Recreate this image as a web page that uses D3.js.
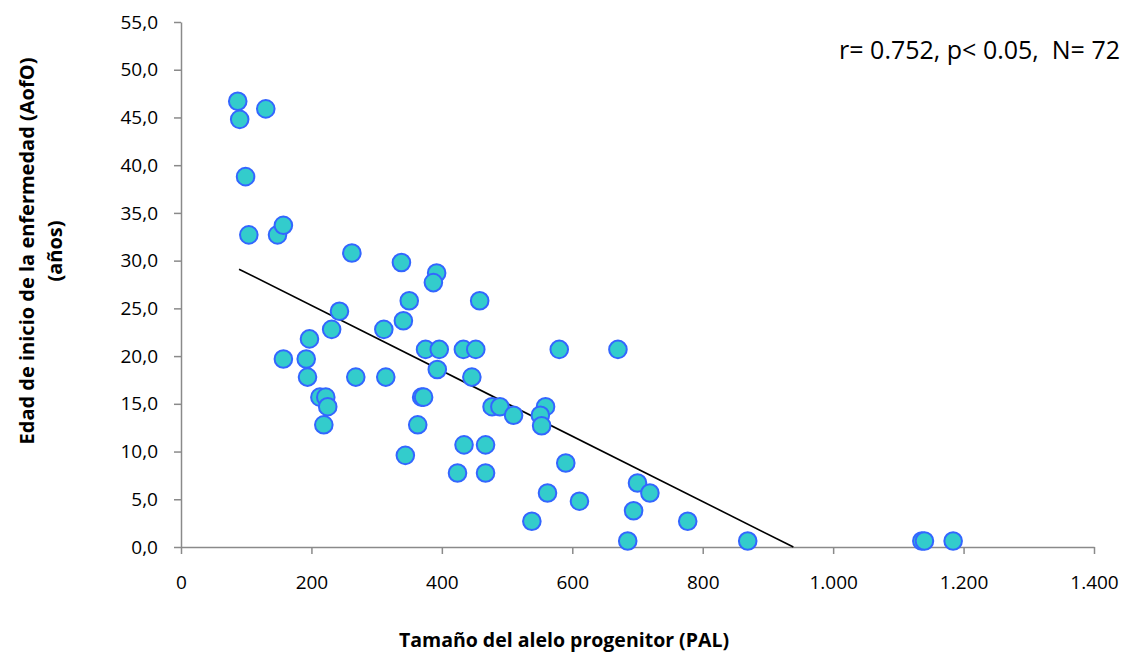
<!DOCTYPE html>
<html>
<head>
<meta charset="utf-8">
<script src="https://cdn.jsdelivr.net/npm/d3@7"></script>
<style>
  body { margin: 0; background: #fff; }
  svg { display: block; font-family: "Open Sans", sans-serif; }
  .axis path, .axis line { stroke: #8a8a8a; stroke-width: 1.5; }
  .axis text { fill: #000; font-size: 19px; font-family: "Open Sans", sans-serif; }
</style>
</head>
<body>
<svg id="chart" width="1127" height="670"></svg>
<script>
// Data
const palValues = [
  87, 90, 130, 99, 104, 148, 157, 262, 338, 392,
  387, 350, 458, 243, 231, 311, 341, 197, 375, 396,
  433, 452, 580, 670, 157, 192, 393, 194, 268, 314,
  446, 213, 222, 369, 372, 225, 477, 489, 559, 510,
  551, 219, 363, 553, 434, 467, 344, 590, 424, 467,
  700, 562, 719, 611, 694, 538, 777, 685, 869, 1136,
  1140, 1184
];
const aofoValues = [
  46.7, 44.8, 45.9, 38.8, 32.7, 32.7, 33.7, 30.8, 29.8, 28.7,
  27.7, 25.8, 25.8, 24.7, 22.8, 22.8, 23.7, 21.8, 20.7, 20.7,
  20.7, 20.7, 20.7, 20.7, 19.7, 19.7, 18.6, 17.8, 17.8, 17.8,
  17.8, 15.7, 15.7, 15.7, 15.7, 14.7, 14.7, 14.7, 14.7, 13.8,
  13.8, 12.8, 12.8, 12.7, 10.7, 10.7, 9.6, 8.8, 7.75, 7.75,
  6.7, 5.66, 5.66, 4.8, 3.8, 2.7, 2.7, 0.63, 0.63, 0.63,
  0.63, 0.63
];
const trendX = [89, 939];
const trendY = [29.1, 0];
const xTicks = [0, 200, 400, 600, 800, 1000, 1200, 1400];
const yTicks = [0, 5, 10, 15, 20, 25, 30, 35, 40, 45, 50, 55];
const statsLabel = "r= 0.752, p< 0.05,  N= 72";

const points = palValues.map((v, i) => ({ x: v, y: aofoValues[i] }));

// Layout
const PLOT = { left: 181, right: 1094, top: 22, bottom: 547 };

const svg = d3.select("#chart");

const xScale = d3.scaleLinear().domain([0, 1400]).range([PLOT.left, PLOT.right]);
const yScale = d3.scaleLinear().domain([0, 55]).range([PLOT.bottom, PLOT.top]);

const fmtX = (v) => d3.format(",")(v).replace(/,/g, ".");
const fmtY = (v) => v.toFixed(1).replace(".", ",");

// Axes
svg.append("g")
  .attr("class", "axis")
  .attr("transform", `translate(0,${PLOT.bottom})`)
  .call(d3.axisBottom(xScale).tickValues(xTicks).tickFormat(fmtX).tickSize(7).tickSizeOuter(0).tickPadding(22));

svg.append("g")
  .attr("class", "axis")
  .attr("transform", `translate(${PLOT.left},0)`)
  .call(d3.axisLeft(yScale).tickValues(yTicks).tickFormat(fmtY).tickSize(7).tickSizeOuter(0).tickPadding(16));

// Trend line
svg.append("line")
  .attr("x1", xScale(trendX[0]))
  .attr("y1", yScale(trendY[0]))
  .attr("x2", xScale(trendX[1]))
  .attr("y2", yScale(trendY[1]))
  .attr("stroke", "#000")
  .attr("stroke-width", 1.6);

// Points
svg.append("g")
  .selectAll("circle")
  .data(points)
  .join("circle")
  .attr("cx", (d) => xScale(d.x))
  .attr("cy", (d) => yScale(d.y))
  .attr("r", 8.8)
  .attr("fill", "#33CCCC")
  .attr("stroke", "#3366FF")
  .attr("stroke-width", 2);

// Stats annotation
svg.append("text")
  .attr("x", 1120)
  .attr("y", 59)
  .attr("text-anchor", "end")
  .attr("font-size", 25)
  .style("white-space", "pre")
  .text(statsLabel);

// Axis titles
svg.append("text")
  .attr("x", 564)
  .attr("y", 647)
  .attr("text-anchor", "middle")
  .attr("font-size", 19.5)
  .attr("font-weight", "bold")
  .text("Tamaño del alelo progenitor (PAL)");

const yTitle = svg.append("text")
  .attr("transform", "translate(0,251) rotate(-90)")
  .attr("text-anchor", "middle")
  .attr("font-size", 20)
  .attr("font-weight", "bold");
yTitle.append("tspan").attr("x", 0).attr("y", 34).text("Edad de inicio de la enfermedad (AofO)");
yTitle.append("tspan").attr("x", 0).attr("y", 62).text("(años)");
</script>
</body>
</html>
